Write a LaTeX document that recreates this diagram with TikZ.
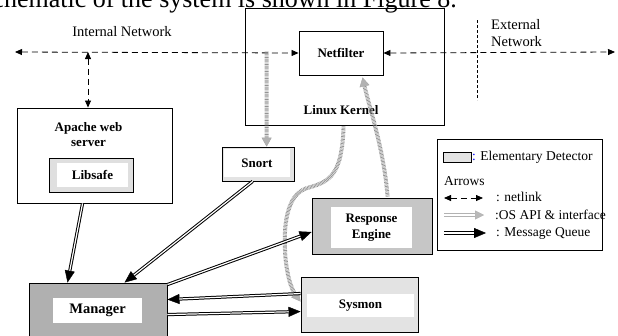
\documentclass[tikz,border=0pt]{standalone}
\usepackage{fontspec}
\setmainfont{Liberation Serif}
\usetikzlibrary{arrows.meta,calc}
\begin{document}
\begin{tikzpicture}[x=1pt,y=-1pt,
  box/.style={draw, line width=0.9pt, inner sep=0pt, minimum width=#1},
  inbox/.style={fill=white, inner sep=0pt, align=center, font=\bfseries\fontsize{13}{16}\selectfont},
  lbl/.style={font=\bfseries\fontsize{13}{15}\selectfont, align=center, inner sep=0pt},
  txt/.style={font=\fontsize{14.5}{17}\selectfont, inner sep=0pt},
  leg/.style={font=\fontsize{13.5}{16}\selectfont, inner sep=0pt, anchor=west},
  netlink/.style={line width=0.8pt, dash pattern=on 6pt off 4pt,
    arrows={Triangle[length=7pt,width=6pt]-Triangle[length=7pt,width=6pt]}},
  osapi/.style={line width=4pt, draw=gray!85, dash pattern=on 0.7pt off 0.7pt,
    -{Triangle[length=9pt,width=10pt,line width=0.4pt,fill=gray!60,color=gray!70]}},
  osleg/.style={line width=3.6pt, draw=gray!60,
    -{Triangle[length=9pt,width=9pt,line width=0.4pt,fill=gray!55,color=gray!60]},
    postaction={draw=white, line width=1.4pt, -, shorten >=9pt}},
  mq/.style={line width=3.2pt, -{Triangle[length=12pt,width=10pt,line width=0.4pt]},
    postaction={draw=white, line width=1.2pt, -, shorten >=12pt}},
]
\useasboundingbox (0,0) rectangle (618,335);
\clip (0,0) rectangle (618,335);

% caption fragment
\node[anchor=base east, font=\fontsize{26}{30}\selectfont, inner sep=0pt] (cap) at (457,7)
  {schematic of the system is shown in Figure 8.};

% Linux kernel and netfilter
\node[box=199pt, minimum height=117pt] (kernel) at (344.5,66.5) {};
\node[lbl] (kernlbl) at (341,110) {Linux Kernel};
\node[box=84pt, minimum height=44pt, fill=white, lbl] (netf) at (341,53) {Netfilter};

% network labels
\node[txt] (intnet) at (122,32) {Internal Network};
\node[txt, anchor=west, align=left] (extnet) at (491,33.5) {External\\Network};
\coordinate (vt) at (477,20);
\coordinate (vb) at (477,100);
\draw[line width=0.6pt, dash pattern=on 3pt off 2pt] (vt) -- (vb);

% Apache / Libsafe
\node[box=155pt, minimum height=95pt] (apache) at (94.5,155.5) {};
\node[lbl] (apachelbl) at (88.5,134.5) {Apache web\\server};
\node[box=84pt, minimum height=34pt, fill=gray!25] (libsafe) at (91,175) {};
\node[inbox, minimum width=71pt, minimum height=24pt] (libsafein) at (92.5,175) {Libsafe};

% Snort
\node[box=72pt, minimum height=34pt, fill=gray!22, line width=0.7pt] (snort) at (258,164) {};
\node[inbox, minimum width=66pt, minimum height=28pt] (snortin) at (257,163) {Snort};

% Response engine
\node[box=120pt, minimum height=56pt, fill=gray!45] (resp) at (372,226) {};
\node[inbox, minimum width=81pt, minimum height=41pt] (respin) at (371.5,227.5) {Response\\Engine};

% Sysmon
\node[box=117pt, minimum height=55pt, fill=gray!22] (sysmon) at (359.5,304.5) {};
\node[inbox, minimum width=107pt, minimum height=23pt] (sysmonin) at (360.5,305.5) {Sysmon};

% Manager
\node[box=138pt, minimum height=62pt, fill=gray!62] (manager) at (98,314) {};
\node[inbox, minimum width=89pt, minimum height=25pt, font=\bfseries\fontsize{14.5}{17}\selectfont] (managerin) at (97.5,310.5) {Manager};

% Legend
\node[draw, line width=0.9pt, minimum width=165pt, minimum height=111pt, inner sep=0pt] (legend) at (519.5,194.5) {};
\node[draw, line width=0.5pt, fill=gray!22, minimum width=28pt, minimum height=10pt, inner sep=0pt] (swatch) at (457,157) {};
\node[leg] (legdet) at (472,157) {{\color{blue}:} Elementary Detector};
\node[leg] (legarr) at (444,181) {Arrows};
\coordinate (n1) at (444,198);
\coordinate (n2) at (483,198);
\coordinate (o1) at (444,215);
\coordinate (o2) at (484,215);
\coordinate (m1) at (444,233);
\coordinate (m2) at (486,233);
\draw[netlink] (n1) -- (n2);
\draw[osleg] (o1) -- (o2);
\draw[mq] (m1) -- (m2);
\node[leg] (legnet) at (496,197) {: netlink};
\node[leg] (legos) at (495,215) {:OS API \& interface};
\node[leg] (legmq) at (496,233) {: Message Queue};

% netlink connections
\coordinate (inl) at (15,52);
\coordinate (exr) at (615,52);
\coordinate (inj) at (88,52);
\draw[netlink] (inl) -- (netf.west);
\draw[netlink] (netf.east) -- (exr);
\draw[netlink] (inj) -- (apache.north -| inj);

% OS API connections
\draw[osapi] ($(kernel.north west)+(22,44)$) -- ($(snort.north west)+(45,0)$);
\draw[osapi] ($(resp.north west)+(76,-1)$) .. controls (384,150) and (370,110) .. ($(netf.south west)+(64,2)$);
\draw[osapi] ($(kernel.south west)+(99,1)$) .. controls (342,175) and (330,182) .. (307,188)
  .. controls (285,195) and (284,230) .. (285,250)
  .. controls (286,275) and (292,290) .. ($(sysmon.north west)+(0,25)$);

% message queue connections
\draw[mq] ($(apache.south west)+(66,0)$) -- ($(manager.north west)+(39,0)$);
\draw[mq] ($(snort.south west)+(31,0)$) -- ($(manager.north west)+(96,0)$);
\draw[mq] ($(manager.north east)+(0,2)$) -- ($(resp.west)+(0,6)$);
\draw[mq] ($(sysmon.north west)+(0,17)$) -- ($(manager.north east)+(0,17)$);
\draw[mq] ($(manager.north east)+(0,32)$) -- ($(sysmon.north west)+(0,35)$);
\end{tikzpicture}
\end{document}
